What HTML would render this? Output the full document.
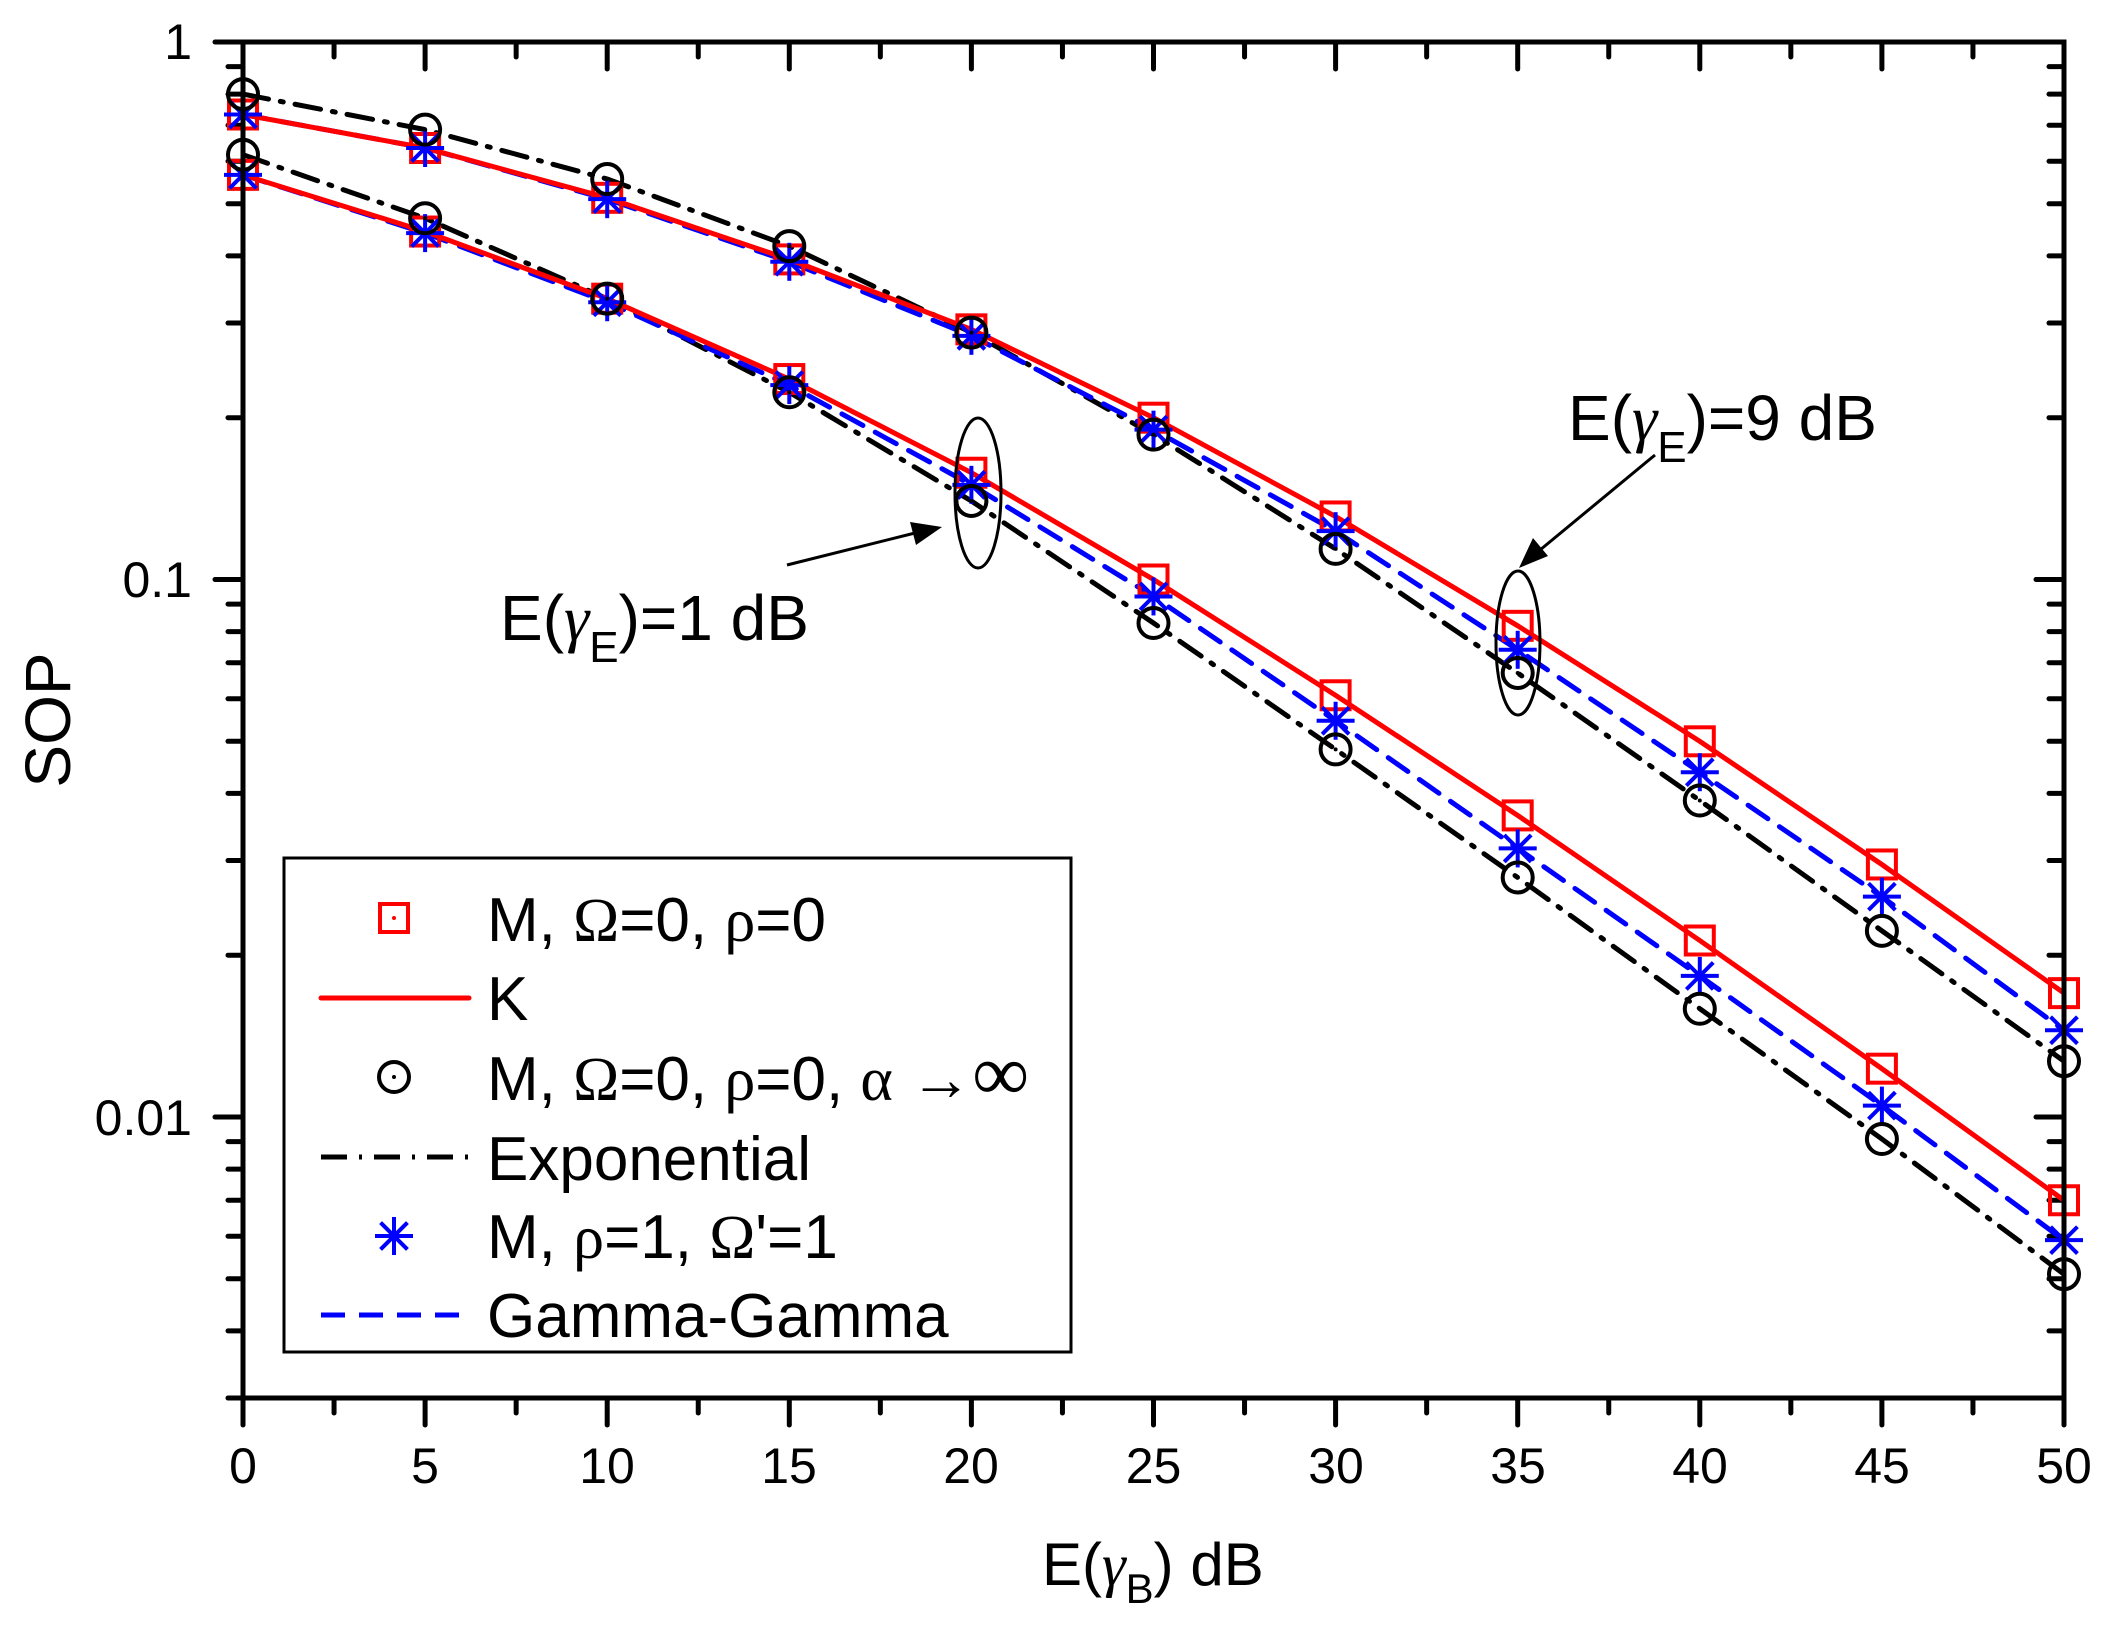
<!DOCTYPE html>
<html><head><meta charset="utf-8"><style>
html,body{margin:0;padding:0;background:#fff}
svg{display:block}
text{font-family:"Liberation Sans",sans-serif;fill:#000}
.g{font-family:"Liberation Serif",serif}
</style></head><body>
<svg id="s" width="2109" height="1627" viewBox="0 0 2109 1627" xmlns="http://www.w3.org/2000/svg">
<rect width="2109" height="1627" fill="#fff"/>
<g id="ticks" stroke="#000" stroke-width="5" stroke-linecap="round"></g>
<g id="plot"></g>
<rect x="243" y="42" width="1821" height="1356" fill="none" stroke="#000" stroke-width="5"/>
<g font-size="50" text-anchor="middle">
<text x="243" y="1483">0</text><text x="425" y="1483">5</text><text x="607" y="1483">10</text><text x="789" y="1483">15</text><text x="971" y="1483">20</text><text x="1153.5" y="1483">25</text><text x="1336" y="1483">30</text><text x="1518" y="1483">35</text><text x="1700" y="1483">40</text><text x="1882" y="1483">45</text><text x="2064" y="1483">50</text>
</g>
<g font-size="50" text-anchor="end">
<text x="192" y="59">1</text><text x="192" y="597">0.1</text><text x="192" y="1135">0.01</text>
</g>
<text transform="translate(70,720) rotate(-90)" font-size="64" text-anchor="middle">SOP</text>
<text x="1042" y="1585" font-size="60">E(<tspan class="g" font-style="italic">γ</tspan><tspan font-size="42" dy="18">B</tspan><tspan dy="-18">) dB</tspan></text>
<text x="1568" y="440" font-size="64">E(<tspan class="g" font-style="italic">γ</tspan><tspan font-size="44" dy="22">E</tspan><tspan dy="-22">)=9 dB</tspan></text>
<text x="500" y="640" font-size="64">E(<tspan class="g" font-style="italic">γ</tspan><tspan font-size="44" dy="22">E</tspan><tspan dy="-22">)=1 dB</tspan></text>
<g fill="none" stroke="#000" stroke-width="3">
<ellipse cx="978" cy="493" rx="23" ry="75"/>
<ellipse cx="1518" cy="643" rx="22" ry="72"/>
<line x1="787" y1="565" x2="915" y2="533"/>
<line x1="1655" y1="455" x2="1540" y2="550"/>
</g>
<polygon points="942,527 910,522 916,545" fill="#000"/>
<polygon points="1519,568 1533,538 1548,556" fill="#000"/>
<rect x="284" y="858" width="787" height="494" fill="#fff" stroke="#000" stroke-width="3"/>
<g id="leg"></g>
<g font-size="62">
<text x="487" y="941">M, <tspan class="g">Ω</tspan>=0, <tspan class="g">ρ</tspan>=0</text>
<text x="487" y="1020">K</text>
<text x="487" y="1100">M, <tspan class="g">Ω</tspan>=0, <tspan class="g">ρ</tspan>=0, <tspan class="g">α</tspan> <tspan class="g">→</tspan><tspan class="g" font-size="80">∞</tspan></text>
<text x="487" y="1180">Exponential</text>
<text x="487" y="1258">M, <tspan class="g">ρ</tspan>=1, <tspan class="g">Ω</tspan>'=1</text>
<text x="487" y="1337">Gamma-Gamma</text>
</g>
</svg>
<script>
var NS="http://www.w3.org/2000/svg";
function el(p,t,a){var e=document.createElementNS(NS,t);for(var k in a)e.setAttribute(k,a[k]);p.appendChild(e);return e;}
var X=function(v){return 243+v/50*1821;};
var Y=function(v){return 42-Math.log10(v)*537.5;};
var tk=document.getElementById('ticks');
for(var i=0;i<=20;i++){var x=243+i*1821/20,L=(i%2==0)?27:15;
el(tk,'line',{x1:x,y1:1398,x2:x,y2:1398+L});el(tk,'line',{x1:x,y1:42,x2:x,y2:42+L});}
for(var d=0;d>=-3;d--){for(var m=1;m<=9;m++){var v=m*Math.pow(10,d-1);if(v>1||v<0.003)continue;var y=Y(v);var L=(m==1)?28:15;
el(tk,'line',{x1:243,y1:y,x2:243-L,y2:y});el(tk,'line',{x1:2064,y1:y,x2:2064-L,y2:y});}}
el(tk,'line',{x1:243,y1:42,x2:215,y2:42});
var xs=[0,5,10,15,20,25,30,35,40,45,50];
var D={
rU:[0.733,0.635,0.513,0.394,0.292,0.2,0.131,0.082,0.05,0.0295,0.017],
bU:[0.733,0.635,0.510,0.39,0.284,0.19,0.123,0.074,0.0438,0.0257,0.0145],
kU:[0.8,0.687,0.556,0.417,0.288,0.186,0.114,0.067,0.0388,0.0222,0.0127],
rL:[0.566,0.444,0.333,0.236,0.158,0.1,0.0609,0.0364,0.0213,0.0123,0.0070],
bL:[0.566,0.441,0.328,0.23,0.15,0.093,0.0546,0.0316,0.0183,0.0105,0.0059],
kL:[0.617,0.47,0.333,0.223,0.14,0.083,0.0483,0.0279,0.0159,0.0091,0.0051]};
var P=document.getElementById('plot');
function line(a,st,dash){var d='';a.forEach(function(v,i){d+=(i?'L':'M')+X(xs[i]).toFixed(1)+','+Y(v).toFixed(1);});
var o={d:d,fill:'none',stroke:st,'stroke-width':5,'stroke-linecap':'round'};if(dash)o['stroke-dasharray']=dash;el(P,'path',o);}
function sq(g,x,y){el(g,'rect',{x:x-14,y:y-14,width:28,height:28,fill:'none',stroke:'#f00','stroke-width':4});el(g,'circle',{cx:x,cy:y,r:2,fill:'#f00'});}
function ci(g,x,y){el(g,'circle',{cx:x,cy:y,r:15,fill:'none',stroke:'#000','stroke-width':4});el(g,'circle',{cx:x,cy:y,r:2,fill:'#000'});}
function st(g,x,y){var r=19;[[0,1],[0.707,0.707],[0.707,-0.707]].forEach(function(q){el(g,'line',{x1:x-q[0]*r,y1:y-q[1]*r,x2:x+q[0]*r,y2:y+q[1]*r,stroke:'#00f','stroke-width':4});});
el(g,'line',{x1:x-r,y1:y,x2:x+r,y2:y,stroke:'#00f','stroke-width':4});}
['U','L'].forEach(function(s){
line(D['k'+s],'#000','26 12 3 12');
line(D['b'+s],'#00f','24 14');
line(D['r'+s],'#f00',null);
D['r'+s].forEach(function(v,i){sq(P,X(xs[i]),Y(v));});
D['b'+s].forEach(function(v,i){st(P,X(xs[i]),Y(v));});
D['k'+s].forEach(function(v,i){ci(P,X(xs[i]),Y(v));});
});
var G=document.getElementById('leg');
sq(G,394,918);
el(G,'line',{x1:321,y1:998,x2:469,y2:998,stroke:'#f00','stroke-width':5,'stroke-linecap':'round'});
ci(G,394,1077);
el(G,'line',{x1:321,y1:1157,x2:469,y2:1157,stroke:'#000','stroke-width':5,'stroke-dasharray':'26 12 3 12'});
st(G,394,1236);
el(G,'line',{x1:321,y1:1315,x2:469,y2:1315,stroke:'#00f','stroke-width':5,'stroke-dasharray':'24 14'});
</script>
</body></html>
